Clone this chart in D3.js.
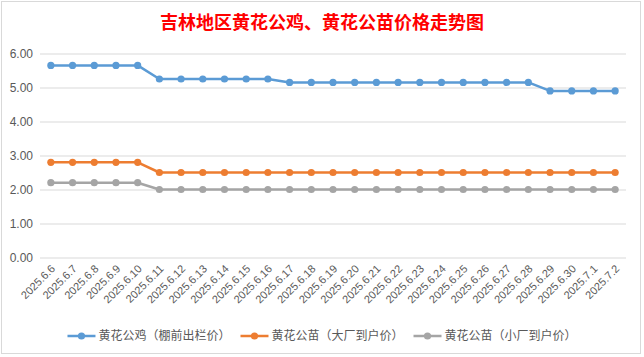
<!DOCTYPE html>
<html>
<head>
<meta charset="utf-8">
<script src="https://cdn.jsdelivr.net/npm/d3@7"></script>
<style>
  html, body { margin: 0; padding: 0; background: #fff; }
  svg { display: block; }
</style>
</head>
<body>
<svg id="chart" width="644" height="357"></svg>
<script>
const titleText = "吉林地区黄花公鸡、黄花公苗价格走势图";
const categories = ["2025.6.6","2025.6.7","2025.6.8","2025.6.9","2025.6.10","2025.6.11","2025.6.12","2025.6.13","2025.6.14","2025.6.15","2025.6.16","2025.6.17","2025.6.18","2025.6.19","2025.6.20","2025.6.21","2025.6.22","2025.6.23","2025.6.24","2025.6.25","2025.6.26","2025.6.27","2025.6.28","2025.6.29","2025.6.30","2025.7.1","2025.7.2"];
const seriesNames = ["黄花公鸡（棚前出栏价）", "黄花公苗（大厂到户价）", "黄花公苗（小厂到户价）"];
const roosterPrice = [5.65,5.65,5.65,5.65,5.65,5.25,5.25,5.25,5.25,5.25,5.25,5.15,5.15,5.15,5.15,5.15,5.15,5.15,5.15,5.15,5.15,5.15,5.15,4.9,4.9,4.9,4.9];
const chickBigPrice = [2.8,2.8,2.8,2.8,2.8,2.5,2.5,2.5,2.5,2.5,2.5,2.5,2.5,2.5,2.5,2.5,2.5,2.5,2.5,2.5,2.5,2.5,2.5,2.5,2.5,2.5,2.5];
const chickSmallPrice = [2.2,2.2,2.2,2.2,2.2,2.0,2.0,2.0,2.0,2.0,2.0,2.0,2.0,2.0,2.0,2.0,2.0,2.0,2.0,2.0,2.0,2.0,2.0,2.0,2.0,2.0,2.0];
const yTicks = [0,1,2,3,4,5,6];
const colors = ["#5B9BD5", "#ED7D31", "#A5A5A5"];

(function () {
const series = [roosterPrice, chickBigPrice, chickSmallPrice];
const svg = d3.select("#chart");
const W = 644, H = 357;

// chart frame
svg.append("rect").attr("x", 1.5).attr("y", 1.5).attr("width", 639).attr("height", 352)
  .attr("fill", "#fff").attr("stroke", "#d9d9d9").attr("stroke-width", 1);

const mLeft = 40, mRight = 626, mTop = 53.5, mBottom = 257.5;
const x = d3.scaleBand().domain(categories).range([mLeft, mRight]).paddingInner(0).paddingOuter(0);
const y = d3.scaleLinear().domain([0, 6]).range([mBottom, mTop]);
const cx = d => x(d) + x.bandwidth() / 2;

// title
svg.append("text").attr("x", W / 2).attr("y", 29)
  .attr("text-anchor", "middle")
  .attr("font-family", "'Noto Sans CJK SC', sans-serif")
  .attr("font-weight", "bold").attr("font-size", 18)
  .attr("fill", "#FF0000").text(titleText);

// y gridlines + labels
const yAxis = d3.axisLeft(y).tickValues(yTicks).tickSize(-(mRight - mLeft)).tickPadding(7)
  .tickFormat(d3.format(".2f"));
const gy = svg.append("g").attr("transform", `translate(${mLeft},0)`).call(yAxis);
gy.select(".domain").remove();
gy.selectAll(".tick line").attr("stroke", "#d9d9d9").attr("stroke-width", 1);
gy.selectAll(".tick text").attr("font-family", "'Liberation Sans', Arial, sans-serif")
  .attr("font-size", 12).attr("fill", "#595959");

// x axis labels
const xAxis = d3.axisBottom(x).tickSize(0).tickPadding(0);
const gx = svg.append("g").attr("transform", `translate(0,${mBottom})`).call(xAxis);
gx.select(".domain").remove();
gx.selectAll(".tick text")
  .attr("font-family", "'Liberation Sans', Arial, sans-serif")
  .attr("font-size", 11).attr("fill", "#595959")
  .attr("text-anchor", "end")
  .attr("dy", "0")
  .attr("transform", "translate(5,12) rotate(-45)");

// lines and markers
const line = d3.line().x((d, i) => cx(categories[i])).y(d => y(d));
series.forEach((vals, si) => {
  svg.append("path").datum(vals).attr("d", line)
    .attr("fill", "none").attr("stroke", colors[si]).attr("stroke-width", 2.5)
    .attr("stroke-linejoin", "round");
  svg.append("g").selectAll("circle").data(vals).join("circle")
    .attr("cx", (d, i) => cx(categories[i])).attr("cy", d => y(d))
    .attr("r", 3.6).attr("fill", colors[si]);
});

// legend
const legend = svg.append("g");
const legY = 336;
let lx = 0;
seriesNames.forEach((name, i) => {
  const g = legend.append("g").attr("transform", `translate(${lx},0)`);
  g.append("line").attr("x1", 0).attr("x2", 28).attr("y1", legY).attr("y2", legY)
    .attr("stroke", colors[i]).attr("stroke-width", 2.5);
  g.append("circle").attr("cx", 14).attr("cy", legY).attr("r", 3.6).attr("fill", colors[i]);
  const t = g.append("text").attr("x", 31).attr("y", legY).attr("dy", "0.36em")
    .attr("font-family", "'Noto Sans CJK SC', sans-serif").attr("font-size", 12)
    .attr("fill", "#595959").text(name);
  const w = t.node().getComputedTextLength();
  lx += 31 + w + 10;
});
const totalW = lx - 10;
legend.attr("transform", `translate(${(W - totalW) / 2},0)`);
})();
</script>
</body>
</html>
